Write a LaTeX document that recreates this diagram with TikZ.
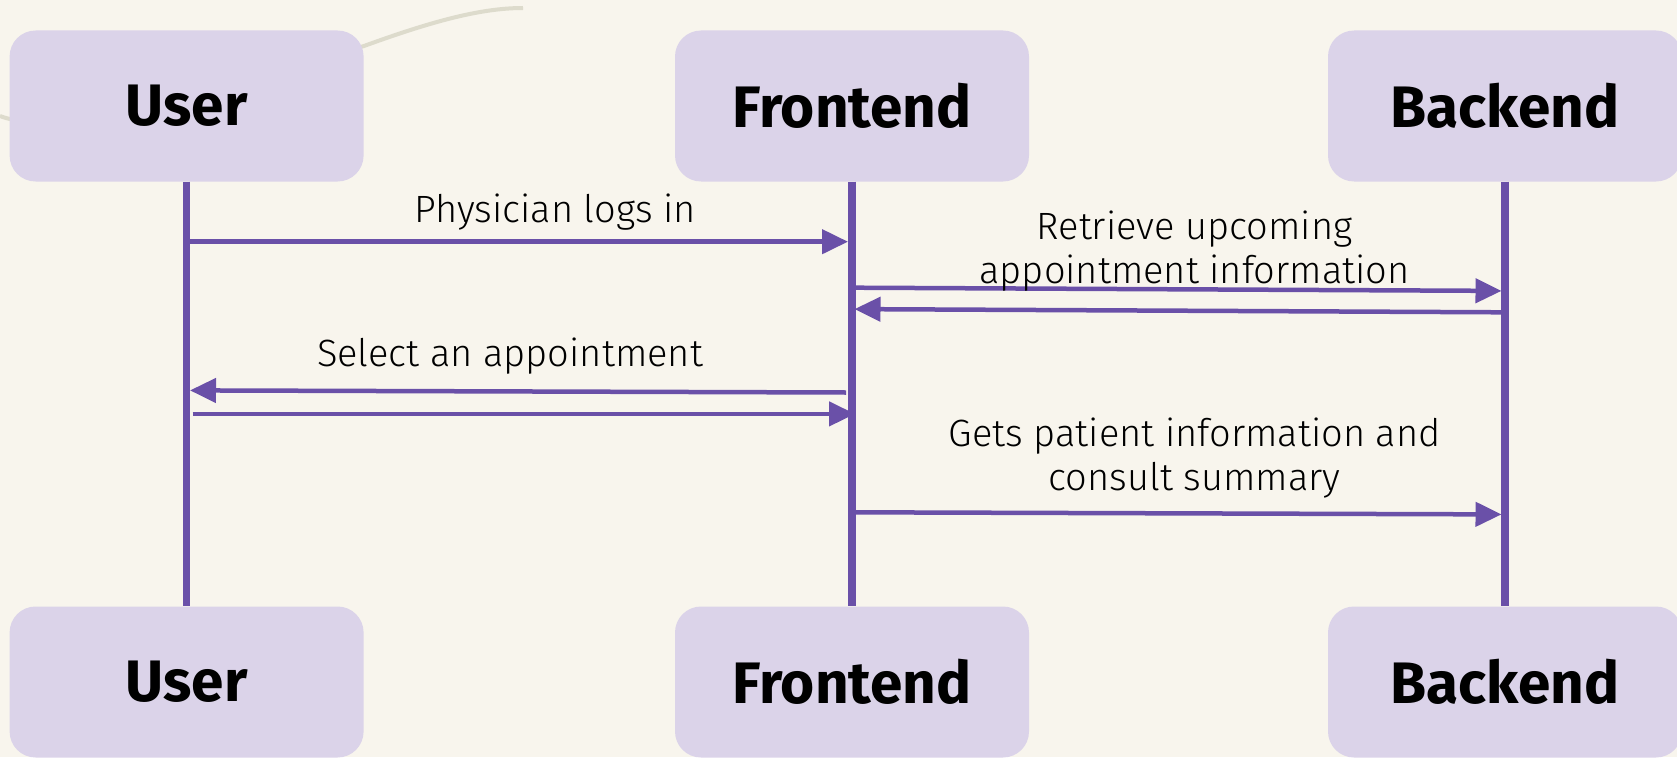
\documentclass[tikz,border=0pt]{standalone}
\usepackage{fontspec}
\setmainfont{Fira Sans}
\newfontfamily\msgfont{Fira Sans Light}
\usetikzlibrary{arrows.meta}
\definecolor{paper}{HTML}{F8F5ED}
\definecolor{boxfill}{HTML}{DBD3E9}
\definecolor{seq}{HTML}{6A50A8}
\definecolor{doodle}{HTML}{DDDBCC}
\begin{document}
\begin{tikzpicture}[x=1pt,y=-1pt,
  actor/.style={fill=boxfill, rounded corners=26pt, minimum width=354pt,
    minimum height=151pt, inner sep=0pt, text=black,
    font=\bfseries\fontsize{58.5}{62}\selectfont},
  lifeline/.style={draw=seq, line width=7.5pt},
  msg/.style={draw=seq, line width=4.5pt, -{Triangle[length=26pt,width=24pt]}},
  lbl/.style={font=\msgfont\fontsize{38}{44}\selectfont, align=center,
    inner sep=0pt, text=black},
  arcline/.style={draw=doodle, line width=4pt}]
  % page
  \fill[paper] (0,0) rectangle (1677,757);
  \useasboundingbox (0,0) rectangle (1677,757);
  \clip (0,0) rectangle (1677,757);

  % decorative stroke behind the first participant
  \draw[arcline] (0,116) .. controls (60,140) and (250,80) .. (364,46)
    .. controls (430,22) and (480,8) .. (523,8);

  % participants
  \node[actor] (userT)  at (186.6,106) {User};
  \node[actor] (frontT) at (852,106)   {Frontend};
  \node[actor] (backT)  at (1505,106)  {Backend};
  \node[actor] (userB)  at (186.6,682) {User};
  \node[actor] (frontB) at (852,682)   {Frontend};
  \node[actor] (backB)  at (1505,682)  {Backend};

  % lifelines
  \draw[lifeline] (userT.south)  -- (userB.north);
  \draw[lifeline] (frontT.south) -- (frontB.north);
  \draw[lifeline] (backT.south)  -- (backB.north);

  % message end points
  \coordinate (m1s) at (190,241.7);    \coordinate (m1e) at (848,241.7);
  \coordinate (m2s) at (854.5,287.7);  \coordinate (m2e) at (1501.5,290.9);
  \coordinate (m3s) at (1501.5,312.3); \coordinate (m3e) at (854.5,309.1);
  \coordinate (m4s) at (846,392.5);    \coordinate (m4e) at (190,390.4);
  \coordinate (m5s) at (192.5,413.9);  \coordinate (m5e) at (855,413.9);
  \coordinate (m6s) at (854.5,512.3);  \coordinate (m6e) at (1501.5,514.4);

  % messages
  \draw[msg] (m1s) -- (m1e);
  \draw[msg] (m2s) -- (m2e);
  \draw[msg] (m3s) -- (m3e);
  \draw[msg] (m4s) -- (m4e);
  \draw[msg] (m5s) -- (m5e);
  \draw[msg] (m6s) -- (m6e);

  % message labels
  \node[lbl] (l1) at (555,212) {Physician logs in};
  \node[lbl] (l2) at (1194.6,251) {Retrieve upcoming\\appointment information};
  \node[lbl] (l4) at (510,356) {Select an appointment};
  \node[lbl] (l6) at (1194.6,458) {Gets patient information and\\consult summary};
\end{tikzpicture}
\end{document}
